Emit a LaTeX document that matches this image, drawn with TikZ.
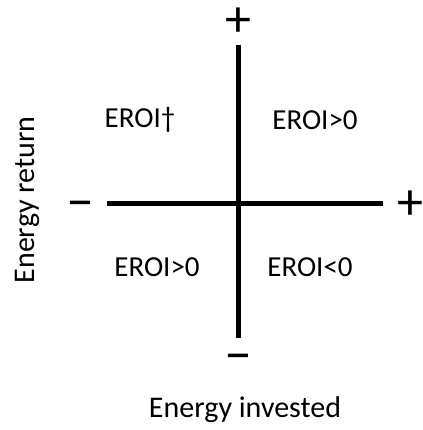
\documentclass[tikz,border=0pt]{standalone}
\usepackage{fontspec}
\setmainfont{Carlito}
\begin{document}
\begin{tikzpicture}[x=1pt,y=-1pt,
  axis/.style={line width=5pt},
  quad/.style={font=\fontsize{29}{34}\selectfont},
  lab/.style={font=\fontsize{30}{36}\selectfont},
  sign/.style={font=\fontsize{52}{56}\selectfont, inner sep=0pt},
  msign/.style={font=\fontsize{56}{60}\selectfont, inner sep=0pt}]
\useasboundingbox (0,0) rectangle (422,430);
\coordinate (top) at (238,45);
\coordinate (bot) at (238,338);
\coordinate (lft) at (107,203);
\coordinate (rgt) at (383,203);
\draw[axis] (top) -- (bot);
\draw[axis] (lft) -- (rgt);
\node[sign] (ptop) at (238,22) {+};
\node[sign] (pright) at (410,205) {+};
\node[msign] (mleft) at (80,210) {–};
\node[msign] (mbot) at (238,363) {–};
\node[quad] (q1) at (140,120) {EROI†};
\node[quad] (q2) at (315,120) {EROI>0};
\node[quad] (q3) at (157,267) {EROI>0};
\node[quad] (q4) at (310,267) {EROI<0};
\node[lab] (xl) at (245,410) {Energy invested};
\node[lab, rotate=90] (yl) at (27,200) {Energy return};
\end{tikzpicture}
\end{document}
